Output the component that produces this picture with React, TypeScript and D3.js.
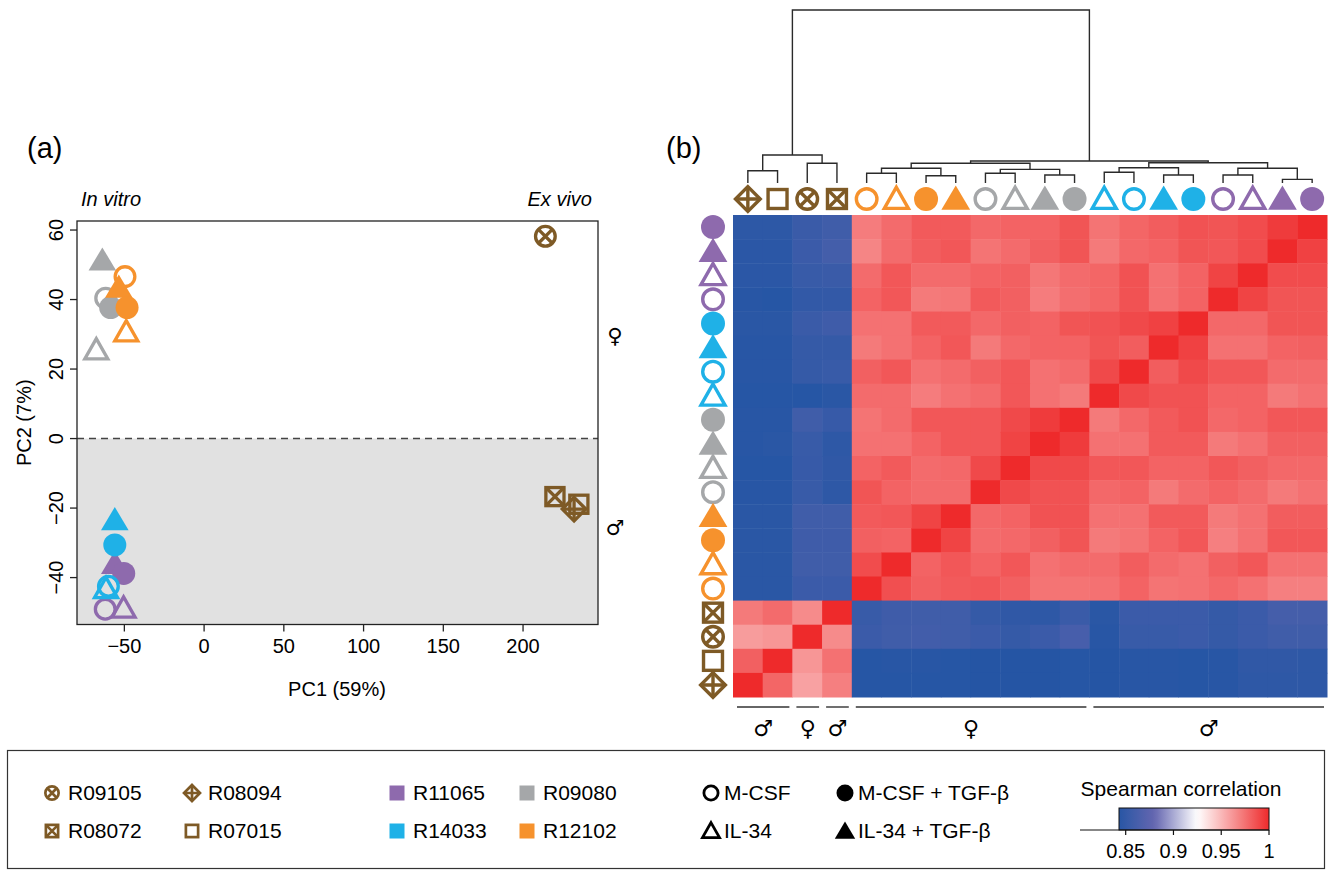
import React from "react";
import * as d3 from "d3";

const FONT = "'Liberation Sans', Arial, Helvetica, sans-serif";
const SYMFONT = "'DejaVu Sans', sans-serif";

// ---- donors / treatments ----
const donorColor: Record<string, string> = {
  R09105: "#7e5a26", R08094: "#7e5a26", R08072: "#7e5a26", R07015: "#7e5a26",
  R11065: "#8e6aad", R09080: "#a5a7a9", R14033: "#1fb1e7", R12102: "#f6922d",
};
const exVivoShape: Record<string, string> = {
  R09105: "circleX", R08094: "diamondPlus", R08072: "squareX", R07015: "square",
};
const treatShape: Record<string, [string, boolean]> = {
  "M-CSF": ["circle", false],
  "IL-34": ["triangle", false],
  "M-CSF + TGF-β": ["circle", true],
  "IL-34 + TGF-β": ["triangle", true],
};

// ---- panel (a): PCA ----
const pcaDonor = [
  "R09080", "R09080", "R09080", "R09080",
  "R12102", "R12102", "R12102", "R12102",
  "R11065", "R11065", "R11065", "R11065",
  "R14033", "R14033", "R14033", "R14033",
  "R09105", "R08072", "R08094", "R07015",
];
const pcaTreat = [
  "IL-34 + TGF-β", "M-CSF", "M-CSF + TGF-β", "IL-34",
  "M-CSF", "IL-34 + TGF-β", "M-CSF + TGF-β", "IL-34",
  "IL-34 + TGF-β", "M-CSF + TGF-β", "M-CSF", "IL-34",
  "IL-34 + TGF-β", "M-CSF + TGF-β", "M-CSF", "IL-34",
  "ex", "ex", "ex", "ex",
];
const pc1 = [-63.8, -61.7, -58.6, -67.6, -49.6, -53.5, -48.3, -48.8, -56, -50.4, -62, -50.5, -56, -56, -60, -61.5, 214, 220, 232, 235];
const pc2 = [51.3, 40.4, 37.7, 25.5, 46.6, 43.5, 37.7, 30.7, -36, -38.8, -49.1, -48.8, -23.4, -30.6, -42.5, -43.2, 58.2, -16.7, -20.3, -18.9];
const pc1Ticks = [-50, 0, 50, 100, 150, 200];
const pc2Ticks = [-40, -20, 0, 20, 40, 60];

// ---- panel (b): heatmap, column order (rows are the reverse) ----
const colDonor = [
  "R08094", "R07015", "R09105", "R08072",
  "R12102", "R12102", "R12102", "R12102",
  "R09080", "R09080", "R09080", "R09080",
  "R14033", "R14033", "R14033", "R14033",
  "R11065", "R11065", "R11065", "R11065",
];
const colTreat = [
  "ex", "ex", "ex", "ex",
  "M-CSF", "IL-34", "M-CSF + TGF-β", "IL-34 + TGF-β",
  "M-CSF", "IL-34", "IL-34 + TGF-β", "M-CSF + TGF-β",
  "IL-34", "M-CSF", "IL-34 + TGF-β", "M-CSF + TGF-β",
  "M-CSF", "IL-34", "IL-34 + TGF-β", "M-CSF + TGF-β",
];
// Spearman correlation, rows top -> bottom as drawn, columns in colDonor order
const corr = [
  [0.846, 0.846, 0.854, 0.858, 0.971, 0.977, 0.983, 0.983, 0.978, 0.980, 0.980, 0.985, 0.974, 0.979, 0.982, 0.986, 0.985, 0.988, 0.994, 1.000],
  [0.845, 0.845, 0.855, 0.860, 0.968, 0.977, 0.982, 0.984, 0.974, 0.977, 0.981, 0.985, 0.972, 0.978, 0.980, 0.985, 0.984, 0.988, 1.000, 0.992],
  [0.845, 0.845, 0.853, 0.854, 0.977, 0.984, 0.977, 0.977, 0.980, 0.981, 0.973, 0.977, 0.979, 0.986, 0.975, 0.980, 0.991, 1.000, 0.988, 0.988],
  [0.843, 0.842, 0.849, 0.850, 0.980, 0.984, 0.972, 0.973, 0.983, 0.981, 0.971, 0.976, 0.979, 0.986, 0.975, 0.980, 1.000, 0.991, 0.985, 0.985],
  [0.844, 0.844, 0.854, 0.857, 0.975, 0.975, 0.983, 0.983, 0.978, 0.981, 0.980, 0.985, 0.986, 0.989, 0.992, 1.000, 0.978, 0.978, 0.985, 0.985],
  [0.843, 0.843, 0.851, 0.851, 0.972, 0.975, 0.980, 0.984, 0.972, 0.978, 0.980, 0.980, 0.985, 0.982, 1.000, 0.992, 0.975, 0.975, 0.980, 0.981],
  [0.843, 0.843, 0.851, 0.853, 0.981, 0.984, 0.975, 0.977, 0.981, 0.984, 0.975, 0.977, 0.989, 1.000, 0.982, 0.989, 0.984, 0.984, 0.977, 0.977],
  [0.842, 0.842, 0.842, 0.844, 0.977, 0.977, 0.971, 0.975, 0.977, 0.984, 0.975, 0.972, 1.000, 0.989, 0.986, 0.986, 0.980, 0.980, 0.972, 0.975],
  [0.843, 0.843, 0.858, 0.852, 0.974, 0.977, 0.984, 0.984, 0.984, 0.989, 0.994, 1.000, 0.972, 0.978, 0.983, 0.986, 0.978, 0.980, 0.984, 0.984],
  [0.843, 0.844, 0.853, 0.847, 0.975, 0.975, 0.980, 0.984, 0.984, 0.991, 1.000, 0.994, 0.975, 0.975, 0.983, 0.983, 0.972, 0.975, 0.981, 0.981],
  [0.842, 0.842, 0.852, 0.848, 0.980, 0.983, 0.977, 0.978, 0.989, 1.000, 0.989, 0.989, 0.984, 0.984, 0.980, 0.980, 0.984, 0.981, 0.978, 0.978],
  [0.843, 0.843, 0.853, 0.847, 0.985, 0.980, 0.977, 0.977, 1.000, 0.989, 0.986, 0.986, 0.978, 0.980, 0.972, 0.977, 0.980, 0.977, 0.972, 0.975],
  [0.844, 0.844, 0.858, 0.858, 0.983, 0.984, 0.991, 1.000, 0.978, 0.980, 0.986, 0.986, 0.975, 0.975, 0.983, 0.983, 0.972, 0.975, 0.982, 0.982],
  [0.844, 0.844, 0.857, 0.857, 0.981, 0.980, 1.000, 0.991, 0.977, 0.978, 0.981, 0.985, 0.972, 0.974, 0.980, 0.984, 0.970, 0.975, 0.984, 0.984],
  [0.844, 0.844, 0.858, 0.858, 0.988, 1.000, 0.980, 0.984, 0.980, 0.984, 0.975, 0.977, 0.977, 0.982, 0.977, 0.975, 0.981, 0.984, 0.975, 0.975],
  [0.844, 0.844, 0.855, 0.855, 1.000, 0.987, 0.981, 0.983, 0.984, 0.981, 0.974, 0.974, 0.975, 0.980, 0.974, 0.975, 0.978, 0.975, 0.970, 0.970],
  [0.972, 0.977, 0.966, 1.000, 0.853, 0.857, 0.858, 0.858, 0.851, 0.848, 0.847, 0.854, 0.844, 0.855, 0.855, 0.855, 0.851, 0.855, 0.861, 0.861],
  [0.960, 0.962, 1.000, 0.966, 0.855, 0.858, 0.859, 0.858, 0.855, 0.851, 0.855, 0.862, 0.843, 0.853, 0.853, 0.855, 0.851, 0.855, 0.858, 0.858],
  [0.981, 1.000, 0.962, 0.975, 0.842, 0.843, 0.843, 0.842, 0.841, 0.841, 0.841, 0.842, 0.841, 0.843, 0.843, 0.842, 0.843, 0.848, 0.848, 0.847],
  [1.000, 0.979, 0.958, 0.970, 0.842, 0.842, 0.842, 0.842, 0.841, 0.841, 0.841, 0.842, 0.841, 0.843, 0.843, 0.842, 0.843, 0.847, 0.847, 0.847],
];
// dendrogram over columns: [left, right, height]; numbers are leaf (column) indices
const dendro: any = [
  [[0, 1, 0.071], [2, 3, 0.114], 0.162],
  [
    [[[4, 5, 0.056], [6, 7, 0.042], 0.085], [[8, 9, 0.056], [10, 11, 0.046], 0.079], 0.114],
    [[[12, 13, 0.062], [14, 15, 0.046], 0.088], [[16, 17, 0.046], [18, 19, 0.021], 0.085], 0.117],
    0.127,
  ],
  1,
];
const sexFrom = [0, 2, 3, 4, 12];
const sexTo = [1, 2, 3, 11, 19];
const sexLabel = ["♂", "♀", "♂", "♀", "♂"];

// ---- legend ----
const legDonors = ["R09105", "R08094", "R08072", "R07015", "R11065", "R09080", "R14033", "R12102"];
const legTreats = ["M-CSF", "M-CSF + TGF-β", "IL-34", "IL-34 + TGF-β"];
const corrTicks = [0.85, 0.9, 0.95, 1];

const corrColor = d3
  .scaleLinear<string>()
  .domain([0.84, 0.88, 0.925, 1])
  .range(["#2355a4", "#6466b0", "#ffffff", "#ee2a2b"])
  .clamp(true);

function symbolOf(donor: string, treat: string) {
  if (treat === "ex") return { shape: exVivoShape[donor], filled: false, color: donorColor[donor] };
  const [shape, filled] = treatShape[treat];
  return { shape, filled, color: donorColor[donor] };
}

function Marker({ x, y, s, sw, shape, filled, color }: any) {
  const stroke = { stroke: color, strokeWidth: sw, fill: "none" };
  const r = s - sw / 2;
  const t = `translate(${x},${y})`;
  if (shape === "circle") {
    return filled ? <circle cx={x} cy={y} r={s} fill={color} /> : <circle cx={x} cy={y} r={r} {...stroke} />;
  }
  if (shape === "triangle") {
    if (filled) {
      const p = `0,${-1.12 * s} ${1.2 * s},${0.9 * s} ${-1.2 * s},${0.9 * s}`;
      return <polygon transform={t} points={p} fill={color} />;
    }
    const p = `0,${-0.98 * s} ${1.0 * s},${0.78 * s} ${-1.0 * s},${0.78 * s}`;
    return <polygon transform={t} points={p} {...stroke} strokeLinejoin="miter" />;
  }
  if (shape === "circleX") {
    const k = r * 0.7071;
    return (
      <g transform={t}>
        <circle r={r} {...stroke} />
        <path d={`M${-k},${-k}L${k},${k}M${k},${-k}L${-k},${k}`} {...stroke} />
      </g>
    );
  }
  if (shape === "diamondPlus") {
    const d = r * 1.2;
    return (
      <g transform={t}>
        <polygon points={`0,${-d} ${d},0 0,${d} ${-d},0`} {...stroke} />
        <path d={`M0,${-d}V${d}M${-d},0H${d}`} {...stroke} />
      </g>
    );
  }
  const a = r * 0.92;
  return (
    <g transform={t}>
      <rect x={-a} y={-a} width={2 * a} height={2 * a} {...stroke} />
      {shape === "squareX" && <path d={`M${-a},${-a}L${a},${a}M${a},${-a}L${-a},${a}`} {...stroke} />}
    </g>
  );
}

export default function App() {
  // panel (a)
  const px = d3.scaleLinear().domain([-79.7, 247]).range([77, 598]);
  const py = d3.scaleLinear().domain([-53.5, 62.6]).range([624.5, 221]);

  // panel (b)
  const idx = d3.range(colDonor.length);
  const hx = d3.scaleBand<number>().domain(idx).range([733, 1327]);
  const hy = d3.scaleBand<number>().domain(idx).range([215, 697]);
  const rowIdx = idx.map((i) => colDonor.length - 1 - i);
  const dy = d3.scaleLinear().domain([0, 1]).range([183, 10]);

  const segs: string[] = [];
  const walk = (n: any): { x: number; y: number } => {
    if (typeof n === "number") return { x: hx(n)! + hx.bandwidth() / 2, y: dy(0) };
    const a = walk(n[0]);
    const b = walk(n[1]);
    const y = dy(n[2]);
    segs.push(`M${a.x},${a.y}V${y}H${b.x}V${b.y}`);
    return { x: (a.x + b.x) / 2, y };
  };
  walk(dendro);

  const cb = d3.scaleLinear().domain([0.843, 1]).range([1119, 1269]);
  const stops = d3.range(0.843, 1.0001, 0.005);

  return (
    <svg width={1332} height={875} style={{ position: "absolute", left: 0, top: 0 }} fontFamily={FONT}>
      <defs>
        <linearGradient id="cbar" x1="0" x2="1" y1="0" y2="0">
          {stops.map((v, i) => (
            <stop key={i} offset={(v - 0.843) / (1 - 0.843)} stopColor={corrColor(v)} />
          ))}
        </linearGradient>
      </defs>
      <rect width={1332} height={875} fill="#fff" />

      {/* ---------- (a) ---------- */}
      <text x={27} y={158} fontSize={29}>(a)</text>
      <text x={81} y={206} fontSize={20} fontStyle="italic">In vitro</text>
      <text x={592} y={206} fontSize={20} fontStyle="italic" textAnchor="end">Ex vivo</text>
      <rect x={px(-79.7)} y={py(0)} width={px(247) - px(-79.7)} height={py(-53.5) - py(0)} fill="#e1e1e1" />
      <line x1={px(-79.7)} x2={px(247)} y1={py(0)} y2={py(0)} stroke="#444" strokeWidth={1.6} strokeDasharray="7,5" />
      {pcaDonor.map((d, i) => {
        const m = symbolOf(d, pcaTreat[i]);
        return <Marker key={i} x={px(pc1[i])} y={py(pc2[i])} s={11.5} sw={3.3} {...m} />;
      })}
      <rect x={77} y={221} width={521} height={403.5} fill="none" stroke="#222" strokeWidth={1.3} />
      {pc1Ticks.map((v) => (
        <g key={v}>
          <line x1={px(v)} x2={px(v)} y1={624.5} y2={631.5} stroke="#222" strokeWidth={1.3} />
          <text x={px(v)} y={653} fontSize={20} textAnchor="middle">{d3.format("")(v).replace("-", "\u2212")}</text>
        </g>
      ))}
      {pc2Ticks.map((v) => (
        <g key={v}>
          <line x1={70} x2={77} y1={py(v)} y2={py(v)} stroke="#222" strokeWidth={1.3} />
          <text transform={`translate(63,${py(v)}) rotate(-90)`} fontSize={20} textAnchor="middle">
            {d3.format("")(v).replace("-", "\u2212")}
          </text>
        </g>
      ))}
      <text x={337} y={696} fontSize={20} textAnchor="middle">PC1 (59%)</text>
      <text transform={`translate(31,${(221 + 624.5) / 2}) rotate(-90)`} fontSize={20} textAnchor="middle">PC2 (7%)</text>
      <text x={615} y={343} fontSize={21} fontFamily={SYMFONT} textAnchor="middle">♀</text>
      <text x={615} y={535} fontSize={21} fontFamily={SYMFONT} textAnchor="middle">♂</text>

      {/* ---------- (b) ---------- */}
      <text x={666} y={158} fontSize={29}>(b)</text>
      <path d={segs.join("")} fill="none" stroke="#2a2a2a" strokeWidth={1.4} />
      {rowIdx.map((ri, r) =>
        idx.map((c) => (
          <rect key={`${r}-${c}`} x={hx(c)} y={hy(r)} width={hx.bandwidth() + 0.5} height={hy.bandwidth() + 0.5} fill={corrColor(corr[r][c])} />
        ))
      )}
      {idx.map((c) => {
        const m = symbolOf(colDonor[c], colTreat[c]);
        return <Marker key={`t${c}`} x={hx(c)! + hx.bandwidth() / 2} y={199} s={12} sw={3.4} {...m} />;
      })}
      {rowIdx.map((ri, r) => {
        const m = symbolOf(colDonor[ri], colTreat[ri]);
        return <Marker key={`l${r}`} x={713} y={hy(r)! + hy.bandwidth() / 2} s={12} sw={3.4} {...m} />;
      })}
      {sexFrom.map((f, i) => {
        const x1 = hx(f)! + 4;
        const x2 = hx(sexTo[i])! + hx.bandwidth() - 3;
        return (
          <g key={`s${i}`}>
            <line x1={x1} x2={x2} y1={707} y2={707} stroke="#333" strokeWidth={1.4} />
            <text x={(x1 + x2) / 2} y={736} fontSize={22} fontFamily={SYMFONT} textAnchor="middle">{sexLabel[i]}</text>
          </g>
        );
      })}

      {/* ---------- legend ---------- */}
      <rect x={7.5} y={750.5} width={1317} height={118} fill="none" stroke="#333" strokeWidth={1.2} />
      {legDonors.map((d, i) => {
        const col = i < 4 ? i % 2 : 2 + (i % 2);
        const row = Math.floor((i % 4) / 2);
        const x = [52, 192, 397, 527][col];
        const y = row === 0 ? 793 : 831;
        const brown = d in exVivoShape;
        return (
          <g key={d}>
            {brown ? (
              <Marker x={x} y={y} s={8} sw={2.7} shape={exVivoShape[d]} filled={false} color={donorColor[d]} />
            ) : (
              <rect x={x - 7.5} y={y - 7.5} width={15} height={15} fill={donorColor[d]} />
            )}
            <text x={x + 16} y={y + 7} fontSize={21}>{d}</text>
          </g>
        );
      })}
      {legTreats.map((tr, i) => {
        const x = i % 2 === 0 ? 711 : 845;
        const y = i < 2 ? 793 : 831;
        const [shape, filled] = treatShape[tr];
        return (
          <g key={tr}>
            <Marker x={x} y={y} s={8.5} sw={2.8} shape={shape} filled={filled} color="#000" />
            <text x={x + 13} y={y + 7} fontSize={21}>{tr}</text>
          </g>
        );
      })}
      <text x={1181} y={796} fontSize={21} textAnchor="middle">Spearman correlation</text>
      <rect x={cb(0.843)} y={808} width={cb(1) - cb(0.843)} height={22} fill="url(#cbar)" stroke="#111" strokeWidth={1} />
      <line x1={1080} x2={cb(1)} y1={830} y2={830} stroke="#111" strokeWidth={1.2} />
      {corrTicks.map((v) => (
        <g key={v}>
          <line x1={cb(v)} x2={cb(v)} y1={830} y2={835} stroke="#111" strokeWidth={1.2} />
          <text x={cb(v)} y={858} fontSize={20} textAnchor="middle">{String(v)}</text>
        </g>
      ))}
    </svg>
  );
}
